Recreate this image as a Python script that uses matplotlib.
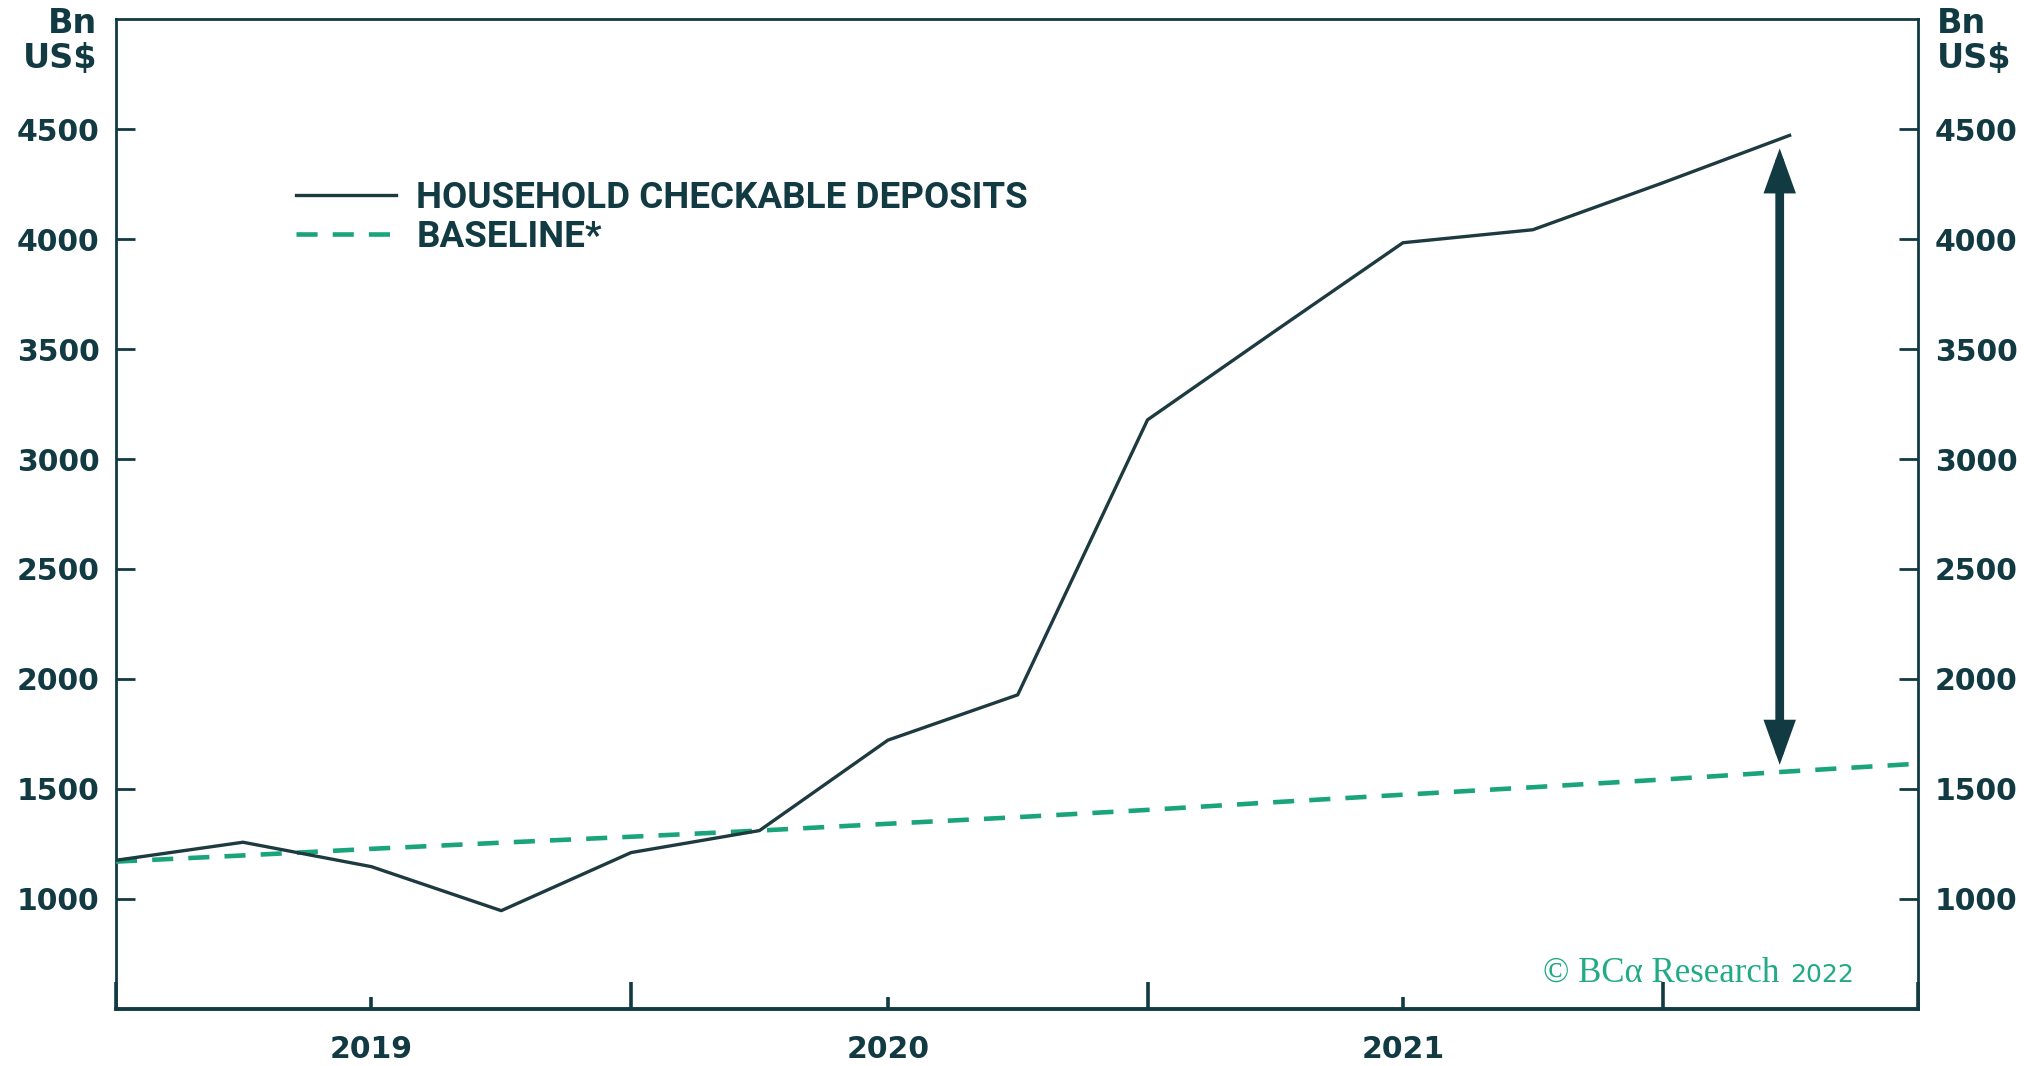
import matplotlib
matplotlib.use("Agg")
import matplotlib.pyplot as plt
from matplotlib.lines import Line2D
from matplotlib.patches import FancyArrowPatch
import matplotlib.dates as mdates
import datetime as dt

# ---------------- data ----------------
deposit_dates = [dt.date(2019, 1, 1), dt.date(2019, 4, 1), dt.date(2019, 7, 1), dt.date(2019, 10, 1),
                 dt.date(2020, 1, 1), dt.date(2020, 4, 1), dt.date(2020, 7, 1), dt.date(2020, 10, 1),
                 dt.date(2021, 1, 1), dt.date(2021, 4, 1), dt.date(2021, 7, 1), dt.date(2021, 10, 1),
                 dt.date(2022, 1, 1), dt.date(2022, 4, 1)]
deposits = [1176, 1258, 1147, 947, 1211, 1311, 1722, 1928, 3178, 3580, 3983, 4042, 4255, 4471]

baseline_dates = deposit_dates + [dt.date(2022, 7, 1)]
baseline = [1170, 1198, 1228, 1256, 1283, 1311, 1342, 1372, 1405, 1440, 1474, 1508, 1543, 1580, 1615]

y_ticks = [1000, 1500, 2000, 2500, 3000, 3500, 4000, 4500]
year_label_dates = [dt.date(2019, 7, 1), dt.date(2020, 7, 1), dt.date(2021, 7, 1)]
year_labels = ["2019", "2020", "2021"]
year_boundaries = [dt.date(2019, 1, 1), dt.date(2020, 1, 1), dt.date(2021, 1, 1),
                   dt.date(2022, 1, 1), dt.date(2022, 7, 1)]

arrow_date = dt.date(2022, 3, 25)
arrow_low, arrow_high = 1610, 4412

legend_labels = ["HOUSEHOLD CHECKABLE DEPOSITS", "BASELINE*"]

# ---------------- style ----------------
DARK = "#123a43"
LINE = "#1d3a40"
GREEN = "#19a47b"
WM_GREEN = "#20aa85"

W, H = 2025, 1066
fig = plt.figure(figsize=(W / 100, H / 100), dpi=100)
ax = fig.add_axes([116 / W, 1 - 1009 / H, (1918 - 116) / W, (1009 - 19) / H])

ax.plot(baseline_dates, baseline, color=GREEN, lw=3.3, dashes=(4.6, 3.3), zorder=3)
ax.plot(deposit_dates, deposits, color=LINE, lw=2.4, zorder=4)

ax.set_xlim(dt.date(2019, 1, 1), dt.date(2022, 7, 1))
ax.set_ylim(500, 5000)

# arrow
arr = FancyArrowPatch((mdates.date2num(arrow_date), arrow_low),
                      (mdates.date2num(arrow_date), arrow_high),
                      arrowstyle="<|-|>,head_length=2.0,head_width=0.72",
                      mutation_scale=10, color=DARK, lw=6.3, shrinkA=0, shrinkB=0,
                      joinstyle="miter", zorder=5)
ax.add_patch(arr)

# spines
for s in ["left", "right", "top"]:
    ax.spines[s].set_color(DARK)
    ax.spines[s].set_linewidth(2.0)
ax.spines["bottom"].set_color(DARK)
ax.spines["bottom"].set_linewidth(2.8)

TS = 21.5
ax.set_yticks(y_ticks)
ax.set_yticklabels([str(v) for v in y_ticks])
ax.tick_params(axis="y", which="major", direction="in", length=13.5, width=2.0,
               color=DARK, left=True, right=True, labelleft=True, labelright=True,
               pad=12, labelcolor=DARK, labelsize=TS)
for t in ax.yaxis.get_major_ticks():
    t.label1.set_fontweight("bold")
    t.label2.set_fontweight("bold")

ax.set_xticks([mdates.date2num(d) for d in year_label_dates])
ax.set_xticklabels(year_labels)
ax.set_xticks([mdates.date2num(d) for d in year_boundaries], minor=True)
ax.tick_params(axis="x", which="major", direction="in", length=8.6, width=2.6,
               color=DARK, bottom=True, top=False, pad=19, labelcolor=DARK, labelsize=TS)
ax.tick_params(axis="x", which="minor", direction="in", length=19.5, width=2.6,
               color=DARK, bottom=True, top=False)
for lab in ax.get_xticklabels():
    lab.set_fontweight("bold")

# unit labels
unit_font = dict(family="DejaVu Sans", weight="bold", size=24, color=DARK)
fig.text(97 / W, 1 - 33 / H, "Bn", ha="right", va="baseline", **unit_font)
fig.text(97 / W, 1 - 68 / H, "US$", ha="right", va="baseline", **unit_font)
fig.text(1937 / W, 1 - 33 / H, "Bn", ha="left", va="baseline", **unit_font)
fig.text(1937 / W, 1 - 68 / H, "US$", ha="left", va="baseline", **unit_font)

# legend
handles = [Line2D([], [], color=LINE, lw=2.4),
           Line2D([], [], color=GREEN, lw=3.3, dashes=(4.6, 3.3))]
leg = ax.legend(handles, legend_labels, loc="upper left",
                bbox_to_anchor=(296 / W, 1 - 180 / H), bbox_transform=fig.transFigure,
                frameon=False, borderpad=0, borderaxespad=0, handlelength=2.72,
                handletextpad=0.55, labelspacing=0.08,
                prop=dict(family="Roboto", weight="bold", size=26.5))
for t in leg.get_texts():
    t.set_color(DARK)

# watermark
fig.text(1779 / W, 1 - 982 / H, "\u00a9 BC\u03b1 Research", ha="right", va="baseline",
         family="Liberation Serif", size=25, color=WM_GREEN)
fig.text(1790 / W, 1 - 982 / H, "2022", ha="left", va="baseline",
         family="DejaVu Sans", size=18, color=WM_GREEN)

fig.savefig("out.png", dpi=100)
